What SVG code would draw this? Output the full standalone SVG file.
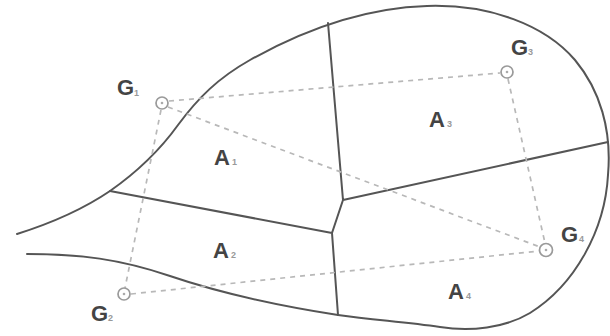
<svg xmlns="http://www.w3.org/2000/svg" width="610" height="336" viewBox="0 0 610 336">
<style>
.bd{fill:none;stroke:#555;stroke-width:2;stroke-linecap:round;stroke-linejoin:round}
.dl{fill:none;stroke:#b8b8b8;stroke-width:1.7;stroke-dasharray:5 5}
.pt{fill:none;stroke:#9a9a9a;stroke-width:1.7}
.dot{fill:#aaa}
.lb{font-family:"Liberation Sans",Arial,sans-serif;fill:#444;font-weight:bold}
.big{font-size:22px}
.ar{font-size:22px}
.sub{font-size:9px;fill:#999}
</style>
<rect width="610" height="336" fill="#fff"/>
<g id="outline">
<path class="bd" d="M17,234 C55,222 85,208 110,191 C140,170 160,150 178,125 C198,98 218,78 250,60 C300,32 360,8 427,6 C490,4 545,25 575,60 C600,90 612,130 608,175 C605,230 575,285 530,313 C505,328 470,332 440,327 C405,322 375,320 338,315 C280,306 220,293 170,276 C120,259 80,254 27,254"/>
<path class="bd" d="M328,23 L343,200 L608,142 M343,200 L332,233 L110,191 M332,233 L338,315"/>
</g>
<g id="connectors">
<line class="dl" x1="169" y1="101" x2="500" y2="73"/>
<line class="dl" x1="168" y1="107" x2="540" y2="247"/>
<line class="dl" x1="161" y1="110" x2="125" y2="288"/>
<line class="dl" x1="508" y1="79" x2="545" y2="243"/>
<line class="dl" x1="131" y1="294" x2="539" y2="251"/>
</g>
<g id="A1"><text class="lb ar" x="214" y="165">A</text><text class="lb sub" x="232" y="165">1</text></g>
<g id="A2"><text class="lb ar" x="213" y="258">A</text><text class="lb sub" x="231" y="258">2</text></g>
<g id="A3"><text class="lb ar" x="429" y="127">A</text><text class="lb sub" x="447" y="127">3</text></g>
<g id="A4"><text class="lb ar" x="448" y="299">A</text><text class="lb sub" x="466" y="299">4</text></g>
<g id="G1"><circle class="pt" cx="162" cy="103" r="6"/><circle class="dot" cx="162" cy="103" r="1.3"/><text class="lb big" x="117" y="95">G</text><text class="lb sub" x="134" y="96">1</text></g>
<g id="G2"><circle class="pt" cx="124" cy="294" r="6"/><circle class="dot" cx="124" cy="294" r="1.3"/><text class="lb big" x="91" y="321">G</text><text class="lb sub" x="108" y="321">2</text></g>
<g id="G3"><circle class="pt" cx="507" cy="72" r="6"/><circle class="dot" cx="507" cy="72" r="1.3"/><text class="lb big" x="511" y="55">G</text><text class="lb sub" x="528" y="55">3</text></g>
<g id="G4"><circle class="pt" cx="546" cy="250" r="6.5"/><circle class="dot" cx="546" cy="250" r="1.3"/><text class="lb big" x="561" y="242">G</text><text class="lb sub" x="579" y="242">4</text></g>
</svg>
